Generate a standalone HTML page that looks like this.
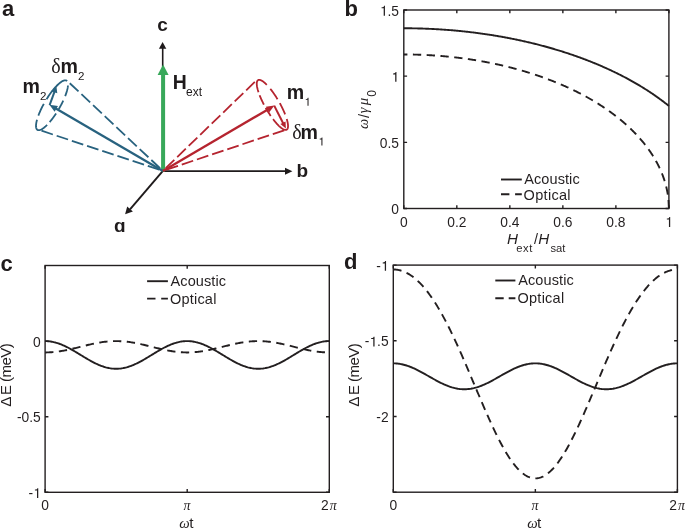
<!DOCTYPE html><html><head><meta charset="utf-8"><style>html,body{margin:0;padding:0;background:#fff;overflow:hidden}svg{display:block;will-change:transform}</style></head><body>
<svg width="685" height="529" viewBox="0 0 685 529">
<rect width="685" height="529" fill="#fff"/>
<text x="2.06" y="16.1" font-family="Liberation Sans" font-size="22" font-weight="bold" font-style="normal" fill="#1f1b1c">a</text>
<text x="344.55" y="16" font-family="Liberation Sans" font-size="22" font-weight="bold" font-style="normal" fill="#1f1b1c">b</text>
<text x="0.54" y="270.5" font-family="Liberation Sans" font-size="22" font-weight="bold" font-style="normal" fill="#1f1b1c">c</text>
<text x="344.1" y="269.4" font-family="Liberation Sans" font-size="22" font-weight="bold" font-style="normal" fill="#1f1b1c">d</text>
<path d="M403.8 28.26 L404.68 28.26 L405.57 28.26 L406.45 28.27 L407.33 28.27 L408.22 28.28 L409.1 28.29 L409.99 28.3 L410.87 28.31 L411.75 28.32 L412.64 28.33 L413.52 28.34 L414.4 28.36 L415.29 28.38 L416.17 28.39 L417.06 28.41 L417.94 28.44 L418.82 28.46 L419.71 28.48 L420.59 28.51 L421.47 28.53 L422.36 28.56 L423.24 28.59 L424.12 28.62 L425.01 28.65 L425.89 28.69 L426.78 28.72 L427.66 28.76 L428.54 28.79 L429.43 28.83 L430.31 28.87 L431.19 28.91 L432.08 28.96 L432.96 29 L433.84 29.05 L434.73 29.09 L435.61 29.14 L436.5 29.19 L437.38 29.24 L438.26 29.29 L439.15 29.35 L440.03 29.4 L440.91 29.46 L441.8 29.52 L442.68 29.58 L443.56 29.64 L444.45 29.7 L445.33 29.76 L446.22 29.83 L447.1 29.9 L447.98 29.96 L448.87 30.03 L449.75 30.1 L450.63 30.17 L451.52 30.25 L452.4 30.32 L453.29 30.4 L454.17 30.48 L455.05 30.55 L455.94 30.63 L456.82 30.72 L457.7 30.8 L458.59 30.88 L459.47 30.97 L460.35 31.06 L461.24 31.15 L462.12 31.24 L463.01 31.33 L463.89 31.42 L464.77 31.52 L465.66 31.61 L466.54 31.71 L467.42 31.81 L468.31 31.91 L469.19 32.01 L470.07 32.11 L470.96 32.22 L471.84 32.32 L472.73 32.43 L473.61 32.54 L474.49 32.65 L475.38 32.76 L476.26 32.87 L477.14 32.99 L478.03 33.1 L478.91 33.22 L479.8 33.34 L480.68 33.46 L481.56 33.58 L482.45 33.71 L483.33 33.83 L484.21 33.96 L485.1 34.09 L485.98 34.22 L486.86 34.35 L487.75 34.48 L488.63 34.61 L489.52 34.75 L490.4 34.89 L491.28 35.03 L492.17 35.17 L493.05 35.31 L493.93 35.45 L494.82 35.59 L495.7 35.74 L496.58 35.89 L497.47 36.04 L498.35 36.19 L499.24 36.34 L500.12 36.49 L501 36.65 L501.89 36.81 L502.77 36.97 L503.65 37.13 L504.54 37.29 L505.42 37.45 L506.31 37.62 L507.19 37.78 L508.07 37.95 L508.96 38.12 L509.84 38.29 L510.72 38.46 L511.61 38.64 L512.49 38.82 L513.37 38.99 L514.26 39.17 L515.14 39.35 L516.03 39.54 L516.91 39.72 L517.79 39.91 L518.68 40.09 L519.56 40.28 L520.44 40.47 L521.33 40.67 L522.21 40.86 L523.1 41.06 L523.98 41.25 L524.86 41.45 L525.75 41.65 L526.63 41.86 L527.51 42.06 L528.4 42.27 L529.28 42.48 L530.16 42.69 L531.05 42.9 L531.93 43.11 L532.82 43.32 L533.7 43.54 L534.58 43.76 L535.47 43.98 L536.35 44.2 L537.23 44.43 L538.12 44.65 L539 44.88 L539.88 45.11 L540.77 45.34 L541.65 45.57 L542.54 45.81 L543.42 46.04 L544.3 46.28 L545.19 46.52 L546.07 46.76 L546.95 47.01 L547.84 47.25 L548.72 47.5 L549.61 47.75 L550.49 48 L551.37 48.25 L552.26 48.51 L553.14 48.77 L554.02 49.03 L554.91 49.29 L555.79 49.55 L556.67 49.82 L557.56 50.08 L558.44 50.35 L559.33 50.62 L560.21 50.9 L561.09 51.17 L561.98 51.45 L562.86 51.73 L563.74 52.01 L564.63 52.29 L565.51 52.58 L566.39 52.87 L567.28 53.16 L568.16 53.45 L569.05 53.74 L569.93 54.04 L570.81 54.34 L571.7 54.64 L572.58 54.94 L573.46 55.24 L574.35 55.55 L575.23 55.86 L576.12 56.17 L577 56.48 L577.88 56.8 L578.77 57.12 L579.65 57.44 L580.53 57.76 L581.42 58.09 L582.3 58.41 L583.18 58.74 L584.07 59.07 L584.95 59.41 L585.84 59.75 L586.72 60.09 L587.6 60.43 L588.49 60.77 L589.37 61.12 L590.25 61.47 L591.14 61.82 L592.02 62.17 L592.9 62.53 L593.79 62.89 L594.67 63.25 L595.56 63.61 L596.44 63.98 L597.32 64.35 L598.21 64.72 L599.09 65.1 L599.97 65.47 L600.86 65.85 L601.74 66.24 L602.62 66.62 L603.51 67.01 L604.39 67.4 L605.28 67.8 L606.16 68.19 L607.04 68.59 L607.93 69 L608.81 69.4 L609.69 69.81 L610.58 70.22 L611.46 70.64 L612.35 71.05 L613.23 71.48 L614.11 71.9 L615 72.33 L615.88 72.76 L616.76 73.19 L617.65 73.63 L618.53 74.06 L619.41 74.51 L620.3 74.95 L621.18 75.4 L622.07 75.86 L622.95 76.31 L623.83 76.77 L624.72 77.23 L625.6 77.7 L626.48 78.17 L627.37 78.65 L628.25 79.12 L629.13 79.6 L630.02 80.09 L630.9 80.58 L631.79 81.07 L632.67 81.57 L633.55 82.07 L634.44 82.57 L635.32 83.08 L636.2 83.59 L637.09 84.11 L637.97 84.63 L638.86 85.15 L639.74 85.68 L640.62 86.21 L641.51 86.75 L642.39 87.29 L643.27 87.84 L644.16 88.39 L645.04 88.94 L645.92 89.5 L646.81 90.06 L647.69 90.63 L648.58 91.21 L649.46 91.79 L650.34 92.37 L651.23 92.96 L652.11 93.55 L652.99 94.15 L653.88 94.76 L654.76 95.37 L655.64 95.98 L656.53 96.6 L657.41 97.23 L658.3 97.86 L659.18 98.5 L660.06 99.15 L660.95 99.8 L661.83 100.45 L662.71 101.12 L663.6 101.78 L664.48 102.46 L665.37 103.14 L666.25 103.83 L667.13 104.53 L668.02 105.23 L668.9 105.94" stroke="#231f20" stroke-width="1.9" fill="none" stroke-linejoin="round"/>
<path d="M403.8 54.46 L404.24 54.46 L404.68 54.46 L405.13 54.47 L405.57 54.47 L406.01 54.47 L406.45 54.47 L406.89 54.47 L407.33 54.48 L407.78 54.48 L408.22 54.49 L408.66 54.49 L409.1 54.49 L409.54 54.5 L409.99 54.51 L410.43 54.51 L410.87 54.52 L411.31 54.53 L411.75 54.53 L412.19 54.54 L412.64 54.55 L413.08 54.56 L413.52 54.57 L413.96 54.58 L414.4 54.59 L414.85 54.6 L415.29 54.61 L415.73 54.62 L416.17 54.63 L416.61 54.64 L417.06 54.66 L417.5 54.67 L417.94 54.68 L418.38 54.7 L418.82 54.71 L419.26 54.73 L419.71 54.74 L420.15 54.76 L420.59 54.77 L421.03 54.79 L421.47 54.81 L421.92 54.82 L422.36 54.84 L422.8 54.86 L423.24 54.88 L423.68 54.9 L424.12 54.92 L424.57 54.94 L425.01 54.96 L425.45 54.98 L425.89 55 L426.33 55.02 L426.78 55.04 L427.22 55.07 L427.66 55.09 L428.1 55.11 L428.54 55.14 L428.98 55.16 L429.43 55.19 L429.87 55.21 L430.31 55.24 L430.75 55.26 L431.19 55.29 L431.64 55.32 L432.08 55.34 L432.52 55.37 L432.96 55.4 L433.4 55.43 L433.84 55.46 L434.29 55.49 L434.73 55.52 L435.17 55.55 L435.61 55.58 L436.05 55.61 L436.5 55.64 L436.94 55.67 L437.38 55.7 L437.82 55.74 L438.26 55.77 L438.7 55.81 L439.15 55.84 L439.59 55.87 L440.03 55.91 L440.47 55.94 L440.91 55.98 L441.36 56.02 L441.8 56.05 L442.24 56.09 L442.68 56.13 L443.12 56.17 L443.56 56.21 L444.01 56.25 L444.45 56.29 L444.89 56.33 L445.33 56.37 L445.77 56.41 L446.22 56.45 L446.66 56.49 L447.1 56.53 L447.54 56.58 L447.98 56.62 L448.43 56.66 L448.87 56.71 L449.31 56.75 L449.75 56.8 L450.19 56.84 L450.63 56.89 L451.08 56.93 L451.52 56.98 L451.96 57.03 L452.4 57.07 L452.84 57.12 L453.29 57.17 L453.73 57.22 L454.17 57.27 L454.61 57.32 L455.05 57.37 L455.49 57.42 L455.94 57.47 L456.38 57.52 L456.82 57.58 L457.26 57.63 L457.7 57.68 L458.15 57.74 L458.59 57.79 L459.03 57.84 L459.47 57.9 L459.91 57.95 L460.35 58.01 L460.8 58.07 L461.24 58.12 L461.68 58.18 L462.12 58.24 L462.56 58.3 L463.01 58.35 L463.45 58.41 L463.89 58.47 L464.33 58.53 L464.77 58.59 L465.21 58.65 L465.66 58.72 L466.1 58.78 L466.54 58.84 L466.98 58.9 L467.42 58.97 L467.87 59.03 L468.31 59.09 L468.75 59.16 L469.19 59.22 L469.63 59.29 L470.07 59.36 L470.52 59.42 L470.96 59.49 L471.4 59.56 L471.84 59.62 L472.28 59.69 L472.73 59.76 L473.17 59.83 L473.61 59.9 L474.05 59.97 L474.49 60.04 L474.94 60.11 L475.38 60.18 L475.82 60.26 L476.26 60.33 L476.7 60.4 L477.14 60.48 L477.59 60.55 L478.03 60.63 L478.47 60.7 L478.91 60.78 L479.35 60.85 L479.8 60.93 L480.24 61.01 L480.68 61.08 L481.12 61.16 L481.56 61.24 L482 61.32 L482.45 61.4 L482.89 61.48 L483.33 61.56 L483.77 61.64 L484.21 61.72 L484.66 61.8 L485.1 61.89 L485.54 61.97 L485.98 62.05 L486.42 62.14 L486.86 62.22 L487.31 62.31 L487.75 62.39 L488.19 62.48 L488.63 62.56 L489.07 62.65 L489.52 62.74 L489.96 62.83 L490.4 62.91 L490.84 63 L491.28 63.09 L491.72 63.18 L492.17 63.27 L492.61 63.36 L493.05 63.46 L493.49 63.55 L493.93 63.64 L494.38 63.73 L494.82 63.83 L495.26 63.92 L495.7 64.02 L496.14 64.11 L496.58 64.21 L497.03 64.3 L497.47 64.4 L497.91 64.5 L498.35 64.59 L498.79 64.69 L499.24 64.79 L499.68 64.89 L500.12 64.99 L500.56 65.09 L501 65.19 L501.45 65.29 L501.89 65.4 L502.33 65.5 L502.77 65.6 L503.21 65.7 L503.65 65.81 L504.1 65.91 L504.54 66.02 L504.98 66.12 L505.42 66.23 L505.86 66.34 L506.31 66.44 L506.75 66.55 L507.19 66.66 L507.63 66.77 L508.07 66.88 L508.51 66.99 L508.96 67.1 L509.4 67.21 L509.84 67.32 L510.28 67.44 L510.72 67.55 L511.17 67.66 L511.61 67.78 L512.05 67.89 L512.49 68.01 L512.93 68.12 L513.37 68.24 L513.82 68.35 L514.26 68.47 L514.7 68.59 L515.14 68.71 L515.58 68.83 L516.03 68.95 L516.47 69.07 L516.91 69.19 L517.35 69.31 L517.79 69.43 L518.23 69.55 L518.68 69.68 L519.12 69.8 L519.56 69.93 L520 70.05 L520.44 70.18 L520.89 70.3 L521.33 70.43 L521.77 70.56 L522.21 70.68 L522.65 70.81 L523.1 70.94 L523.54 71.07 L523.98 71.2 L524.42 71.33 L524.86 71.46 L525.3 71.6 L525.75 71.73 L526.19 71.86 L526.63 72 L527.07 72.13 L527.51 72.27 L527.96 72.4 L528.4 72.54 L528.84 72.67 L529.28 72.81 L529.72 72.95 L530.16 73.09 L530.61 73.23 L531.05 73.37 L531.49 73.51 L531.93 73.65 L532.37 73.79 L532.82 73.94 L533.26 74.08 L533.7 74.22 L534.14 74.37 L534.58 74.51 L535.02 74.66 L535.47 74.81 L535.91 74.95 L536.35 75.1 L536.79 75.25 L537.23 75.4 L537.68 75.55 L538.12 75.7 L538.56 75.85 L539 76 L539.44 76.15 L539.88 76.31 L540.33 76.46 L540.77 76.62 L541.21 76.77 L541.65 76.93 L542.09 77.08 L542.54 77.24 L542.98 77.4 L543.42 77.56 L543.86 77.72 L544.3 77.88 L544.74 78.04 L545.19 78.2 L545.63 78.36 L546.07 78.53 L546.51 78.69 L546.95 78.85 L547.4 79.02 L547.84 79.18 L548.28 79.35 L548.72 79.52 L549.16 79.69 L549.61 79.85 L550.05 80.02 L550.49 80.19 L550.93 80.37 L551.37 80.54 L551.81 80.71 L552.26 80.88 L552.7 81.06 L553.14 81.23 L553.58 81.41 L554.02 81.58 L554.47 81.76 L554.91 81.94 L555.35 82.12 L555.79 82.29 L556.23 82.47 L556.67 82.66 L557.12 82.84 L557.56 83.02 L558 83.2 L558.44 83.39 L558.88 83.57 L559.33 83.76 L559.77 83.94 L560.21 84.13 L560.65 84.32 L561.09 84.51 L561.53 84.7 L561.98 84.89 L562.42 85.08 L562.86 85.27 L563.3 85.46 L563.74 85.66 L564.19 85.85 L564.63 86.05 L565.07 86.24 L565.51 86.44 L565.95 86.64 L566.39 86.84 L566.84 87.04 L567.28 87.24 L567.72 87.44 L568.16 87.64 L568.6 87.85 L569.05 88.05 L569.49 88.26 L569.93 88.46 L570.37 88.67 L570.81 88.88 L571.25 89.09 L571.7 89.29 L572.14 89.51 L572.58 89.72 L573.02 89.93 L573.46 90.14 L573.91 90.36 L574.35 90.57 L574.79 90.79 L575.23 91.01 L575.67 91.22 L576.12 91.44 L576.56 91.66 L577 91.88 L577.44 92.11 L577.88 92.33 L578.32 92.55 L578.77 92.78 L579.21 93 L579.65 93.23 L580.09 93.46 L580.53 93.69 L580.98 93.92 L581.42 94.15 L581.86 94.38 L582.3 94.62 L582.74 94.85 L583.18 95.08 L583.63 95.32 L584.07 95.56 L584.51 95.8 L584.95 96.04 L585.39 96.28 L585.84 96.52 L586.28 96.76 L586.72 97.01 L587.16 97.25 L587.6 97.5 L588.04 97.75 L588.49 98 L588.93 98.25 L589.37 98.5 L589.81 98.75 L590.25 99 L590.7 99.26 L591.14 99.51 L591.58 99.77 L592.02 100.03 L592.46 100.29 L592.9 100.55 L593.35 100.81 L593.79 101.07 L594.23 101.34 L594.67 101.6 L595.11 101.87 L595.56 102.14 L596 102.41 L596.44 102.68 L596.88 102.95 L597.32 103.22 L597.76 103.5 L598.21 103.78 L598.65 104.05 L599.09 104.33 L599.53 104.61 L599.97 104.89 L600.42 105.18 L600.86 105.46 L601.3 105.75 L601.74 106.04 L602.18 106.32 L602.62 106.61 L603.07 106.91 L603.51 107.2 L603.95 107.49 L604.39 107.79 L604.83 108.09 L605.28 108.39 L605.72 108.69 L606.16 108.99 L606.6 109.3 L607.04 109.6 L607.49 109.91 L607.93 110.22 L608.37 110.53 L608.81 110.84 L609.25 111.16 L609.69 111.47 L610.14 111.79 L610.58 112.11 L611.02 112.43 L611.46 112.75 L611.9 113.08 L612.35 113.4 L612.79 113.73 L613.23 114.06 L613.67 114.39 L614.11 114.72 L614.55 115.06 L615 115.4 L615.44 115.74 L615.88 116.08 L616.32 116.42 L616.76 116.77 L617.21 117.11 L617.65 117.46 L618.09 117.82 L618.53 118.17 L618.97 118.52 L619.41 118.88 L619.86 119.24 L620.3 119.6 L620.74 119.97 L621.18 120.34 L621.62 120.7 L622.07 121.08 L622.51 121.45 L622.95 121.83 L623.39 122.2 L623.83 122.58 L624.27 122.97 L624.72 123.35 L625.16 123.74 L625.6 124.13 L626.04 124.53 L626.48 124.92 L626.93 125.32 L627.37 125.72 L627.81 126.13 L628.25 126.53 L628.69 126.94 L629.13 127.36 L629.58 127.77 L630.02 128.19 L630.46 128.61 L630.9 129.04 L631.34 129.47 L631.79 129.9 L632.23 130.33 L632.67 130.77 L633.11 131.21 L633.55 131.65 L634 132.1 L634.44 132.55 L634.88 133.01 L635.32 133.47 L635.76 133.93 L636.2 134.39 L636.65 134.86 L637.09 135.34 L637.53 135.81 L637.97 136.3 L638.41 136.78 L638.86 137.27 L639.3 137.77 L639.74 138.27 L640.18 138.77 L640.62 139.28 L641.06 139.79 L641.51 140.31 L641.95 140.83 L642.39 141.36 L642.83 141.89 L643.27 142.43 L643.72 142.97 L644.16 143.52 L644.6 144.07 L645.04 144.64 L645.48 145.2 L645.92 145.77 L646.37 146.35 L646.81 146.94 L647.25 147.53 L647.69 148.13 L648.13 148.74 L648.58 149.35 L649.02 149.97 L649.46 150.6 L649.9 151.24 L650.34 151.88 L650.78 152.54 L651.23 153.2 L651.67 153.87 L652.11 154.55 L652.55 155.24 L652.99 155.95 L653.44 156.66 L653.88 157.38 L654.32 158.12 L654.76 158.87 L655.2 159.63 L655.64 160.4 L656.09 161.19 L656.53 161.99 L656.97 162.81 L657.41 163.65 L657.85 164.5 L658.3 165.37 L658.74 166.26 L659.18 167.17 L659.62 168.1 L660.06 169.06 L660.51 170.04 L660.95 171.05 L661.39 172.09 L661.83 173.16 L662.27 174.27 L662.71 175.42 L663.16 176.61 L663.6 177.85 L664.04 179.14 L664.48 180.49 L664.92 181.92 L665.37 183.43 L665.81 185.04 L666.25 186.77 L666.69 188.66 L667.13 190.74 L667.57 193.12 L668.02 195.93 L668.46 199.61 L668.9 208.5" stroke="#231f20" stroke-width="1.9" fill="none" stroke-linejoin="round" stroke-dasharray="8.3 5.5" stroke-dashoffset="4.7"/>
<path d="M403.8 208.5 V205.2 M403.8 10 V13.3 M456.82 208.5 V205.2 M456.82 10 V13.3 M509.84 208.5 V205.2 M509.84 10 V13.3 M562.86 208.5 V205.2 M562.86 10 V13.3 M615.88 208.5 V205.2 M615.88 10 V13.3 M668.9 208.5 V205.2 M668.9 10 V13.3 M403.8 208.5 H407.1 M668.9 208.5 H665.6 M403.8 142.33 H407.1 M668.9 142.33 H665.6 M403.8 76.17 H407.1 M668.9 76.17 H665.6 M403.8 10 H407.1 M668.9 10 H665.6" stroke="#231f20" stroke-width="1.4" fill="none"/>
<rect x="403.8" y="10" width="265.1" height="198.5" stroke="#231f20" stroke-width="1.4" fill="none"/>
<text x="399" y="214.14" font-family="Liberation Sans" font-size="13.8" font-weight="normal" font-style="normal" text-anchor="end" fill="#231f20">0</text>
<text x="399" y="147.97" font-family="Liberation Sans" font-size="13.8" font-weight="normal" font-style="normal" text-anchor="end" fill="#231f20">0.5</text>
<path d="M395.2 81.81 L396.46 81.81 L396.46 72.02 L395.55 72.02 L395.35 72.64 L394.94 73.11 L394.29 73.36 L393.12 73.44 L393.12 74.47 L395.2 74.47 Z" fill="#231f20"/>
<path d="M383.69 15.64 L384.95 15.64 L384.95 5.86 L384.04 5.86 L383.85 6.48 L383.43 6.95 L382.78 7.19 L381.61 7.28 L381.61 8.3 L383.69 8.3 Z" fill="#231f20"/>
<text x="387.49" y="15.64" font-family="Liberation Sans" font-size="13.8" fill="#231f20">.5</text>
<text x="403.8" y="226.9" font-family="Liberation Sans" font-size="13.8" font-weight="normal" font-style="normal" text-anchor="middle" fill="#231f20">0</text>
<text x="456.82" y="226.9" font-family="Liberation Sans" font-size="13.8" font-weight="normal" font-style="normal" text-anchor="middle" fill="#231f20">0.2</text>
<text x="509.84" y="226.9" font-family="Liberation Sans" font-size="13.8" font-weight="normal" font-style="normal" text-anchor="middle" fill="#231f20">0.4</text>
<text x="562.86" y="226.9" font-family="Liberation Sans" font-size="13.8" font-weight="normal" font-style="normal" text-anchor="middle" fill="#231f20">0.6</text>
<text x="615.88" y="226.9" font-family="Liberation Sans" font-size="13.8" font-weight="normal" font-style="normal" text-anchor="middle" fill="#231f20">0.8</text>
<path d="M668.94 226.9 L670.2 226.9 L670.2 217.12 L669.29 217.12 L669.09 217.74 L668.68 218.21 L668.03 218.45 L666.86 218.54 L666.86 219.56 L668.94 219.56 Z" fill="#231f20"/>
<path d="M501 179.5 H521.8" stroke="#231f20" stroke-width="1.9"/>
<path d="M501 194.3 H509.4 M515.1 194.3 H521.8" stroke="#231f20" stroke-width="1.9"/>
<text x="524.27" y="183.9" font-family="Liberation Sans" font-size="14.5" font-weight="normal" font-style="normal" fill="#231f20" textLength="55.41" lengthAdjust="spacing">Acoustic</text>
<text x="523.61" y="199.5" font-family="Liberation Sans" font-size="14.5" font-weight="normal" font-style="normal" fill="#231f20" textLength="46.96" lengthAdjust="spacing">Optical</text>
<text x="506.93" y="243.9" font-family="Liberation Sans" font-size="15.2" font-weight="normal" font-style="italic" fill="#231f20">H</text>
<text x="516.22" y="251.6" font-family="Liberation Sans" font-size="11.2" font-weight="normal" font-style="normal" fill="#231f20" textLength="16.26" lengthAdjust="spacing">ext</text>
<text x="534.1" y="243.8" font-family="Liberation Sans" font-size="14.5" font-weight="normal" font-style="normal" fill="#231f20">/</text>
<text x="538.23" y="243.9" font-family="Liberation Sans" font-size="15.2" font-weight="normal" font-style="italic" fill="#231f20">H</text>
<text x="550.39" y="251.6" font-family="Liberation Sans" font-size="11.2" font-weight="normal" font-style="normal" fill="#231f20" textLength="15.09" lengthAdjust="spacing">sat</text>
<text x="-128.98" y="368.2" font-family="Liberation Serif" font-size="14.5" font-weight="normal" font-style="italic" fill="#231f20" transform="rotate(-90)">ω</text>
<text x="-118.1" y="368.6" font-family="Liberation Sans" font-size="14.8" font-weight="normal" font-style="normal" fill="#231f20" transform="rotate(-90)">/</text>
<text x="-113.16" y="368.2" font-family="Liberation Serif" font-size="14.5" font-weight="normal" font-style="italic" fill="#231f20" transform="rotate(-90)">γ</text>
<text x="-105.29" y="368.2" font-family="Liberation Serif" font-size="14.8" font-weight="normal" font-style="italic" fill="#231f20" transform="rotate(-90)">μ</text>
<text x="-96.87" y="376" font-family="Liberation Sans" font-size="12" font-weight="normal" font-style="normal" fill="#231f20" transform="rotate(-90)">0</text>
<path d="M45.1 341.1 L46.05 341.11 L46.99 341.15 L47.94 341.21 L48.89 341.29 L49.84 341.4 L50.78 341.53 L51.73 341.69 L52.68 341.87 L53.63 342.07 L54.57 342.3 L55.52 342.54 L56.47 342.81 L57.42 343.1 L58.36 343.41 L59.31 343.74 L60.26 344.09 L61.2 344.46 L62.15 344.85 L63.1 345.26 L64.05 345.68 L64.99 346.12 L65.94 346.57 L66.89 347.04 L67.84 347.52 L68.78 348.02 L69.73 348.53 L70.68 349.04 L71.63 349.57 L72.57 350.11 L73.52 350.66 L74.47 351.21 L75.41 351.78 L76.36 352.34 L77.31 352.91 L78.26 353.49 L79.2 354.07 L80.15 354.65 L81.1 355.22 L82.05 355.8 L82.99 356.38 L83.94 356.96 L84.89 357.53 L85.84 358.09 L86.78 358.66 L87.73 359.21 L88.68 359.76 L89.62 360.3 L90.57 360.83 L91.52 361.34 L92.47 361.85 L93.41 362.35 L94.36 362.83 L95.31 363.3 L96.26 363.75 L97.2 364.19 L98.15 364.61 L99.1 365.02 L100.05 365.41 L100.99 365.78 L101.94 366.13 L102.89 366.46 L103.83 366.77 L104.78 367.06 L105.73 367.33 L106.68 367.57 L107.62 367.8 L108.57 368 L109.52 368.18 L110.47 368.33 L111.41 368.47 L112.36 368.58 L113.31 368.66 L114.26 368.72 L115.2 368.76 L116.15 368.77 L117.1 368.76 L118.04 368.72 L118.99 368.66 L119.94 368.58 L120.89 368.47 L121.83 368.33 L122.78 368.18 L123.73 368 L124.68 367.8 L125.62 367.57 L126.57 367.33 L127.52 367.06 L128.47 366.77 L129.41 366.46 L130.36 366.13 L131.31 365.78 L132.25 365.41 L133.2 365.02 L134.15 364.61 L135.1 364.19 L136.04 363.75 L136.99 363.3 L137.94 362.83 L138.89 362.35 L139.83 361.85 L140.78 361.34 L141.73 360.83 L142.68 360.3 L143.62 359.76 L144.57 359.21 L145.52 358.66 L146.46 358.09 L147.41 357.53 L148.36 356.96 L149.31 356.38 L150.25 355.8 L151.2 355.22 L152.15 354.65 L153.1 354.07 L154.04 353.49 L154.99 352.91 L155.94 352.34 L156.89 351.78 L157.83 351.21 L158.78 350.66 L159.73 350.11 L160.67 349.57 L161.62 349.04 L162.57 348.53 L163.52 348.02 L164.46 347.52 L165.41 347.04 L166.36 346.57 L167.31 346.12 L168.25 345.68 L169.2 345.26 L170.15 344.85 L171.1 344.46 L172.04 344.09 L172.99 343.74 L173.94 343.41 L174.88 343.1 L175.83 342.81 L176.78 342.54 L177.73 342.3 L178.67 342.07 L179.62 341.87 L180.57 341.69 L181.52 341.53 L182.46 341.4 L183.41 341.29 L184.36 341.21 L185.31 341.15 L186.25 341.11 L187.2 341.1 L188.15 341.11 L189.09 341.15 L190.04 341.21 L190.99 341.29 L191.94 341.4 L192.88 341.53 L193.83 341.69 L194.78 341.87 L195.73 342.07 L196.67 342.3 L197.62 342.54 L198.57 342.81 L199.52 343.1 L200.46 343.41 L201.41 343.74 L202.36 344.09 L203.3 344.46 L204.25 344.85 L205.2 345.26 L206.15 345.68 L207.09 346.12 L208.04 346.57 L208.99 347.04 L209.94 347.52 L210.88 348.02 L211.83 348.53 L212.78 349.04 L213.73 349.57 L214.67 350.11 L215.62 350.66 L216.57 351.21 L217.51 351.78 L218.46 352.34 L219.41 352.91 L220.36 353.49 L221.3 354.07 L222.25 354.65 L223.2 355.22 L224.15 355.8 L225.09 356.38 L226.04 356.96 L226.99 357.53 L227.94 358.09 L228.88 358.66 L229.83 359.21 L230.78 359.76 L231.72 360.3 L232.67 360.83 L233.62 361.34 L234.57 361.85 L235.51 362.35 L236.46 362.83 L237.41 363.3 L238.36 363.75 L239.3 364.19 L240.25 364.61 L241.2 365.02 L242.15 365.41 L243.09 365.78 L244.04 366.13 L244.99 366.46 L245.93 366.77 L246.88 367.06 L247.83 367.33 L248.78 367.57 L249.72 367.8 L250.67 368 L251.62 368.18 L252.57 368.33 L253.51 368.47 L254.46 368.58 L255.41 368.66 L256.36 368.72 L257.3 368.76 L258.25 368.77 L259.2 368.76 L260.14 368.72 L261.09 368.66 L262.04 368.58 L262.99 368.47 L263.93 368.33 L264.88 368.18 L265.83 368 L266.78 367.8 L267.72 367.57 L268.67 367.33 L269.62 367.06 L270.57 366.77 L271.51 366.46 L272.46 366.13 L273.41 365.78 L274.35 365.41 L275.3 365.02 L276.25 364.61 L277.2 364.19 L278.14 363.75 L279.09 363.3 L280.04 362.83 L280.99 362.35 L281.93 361.85 L282.88 361.34 L283.83 360.83 L284.78 360.3 L285.72 359.76 L286.67 359.21 L287.62 358.66 L288.56 358.09 L289.51 357.53 L290.46 356.96 L291.41 356.38 L292.35 355.8 L293.3 355.22 L294.25 354.65 L295.2 354.07 L296.14 353.49 L297.09 352.91 L298.04 352.34 L298.99 351.78 L299.93 351.21 L300.88 350.66 L301.83 350.11 L302.77 349.57 L303.72 349.04 L304.67 348.53 L305.62 348.02 L306.56 347.52 L307.51 347.04 L308.46 346.57 L309.41 346.12 L310.35 345.68 L311.3 345.26 L312.25 344.85 L313.2 344.46 L314.14 344.09 L315.09 343.74 L316.04 343.41 L316.98 343.1 L317.93 342.81 L318.88 342.54 L319.83 342.3 L320.77 342.07 L321.72 341.87 L322.67 341.69 L323.62 341.53 L324.56 341.4 L325.51 341.29 L326.46 341.21 L327.41 341.15 L328.35 341.11 L329.3 341.1" stroke="#231f20" stroke-width="1.9" fill="none" stroke-linejoin="round"/>
<path d="M45.1 352.44 L46.05 352.44 L46.99 352.42 L47.94 352.4 L48.89 352.36 L49.84 352.32 L50.78 352.26 L51.73 352.2 L52.68 352.12 L53.63 352.04 L54.57 351.95 L55.52 351.85 L56.47 351.74 L57.42 351.62 L58.36 351.49 L59.31 351.36 L60.26 351.21 L61.2 351.06 L62.15 350.9 L63.1 350.74 L64.05 350.56 L64.99 350.38 L65.94 350.2 L66.89 350.01 L67.84 349.81 L68.78 349.61 L69.73 349.4 L70.68 349.18 L71.63 348.97 L72.57 348.75 L73.52 348.52 L74.47 348.29 L75.41 348.06 L76.36 347.83 L77.31 347.6 L78.26 347.36 L79.2 347.13 L80.15 346.89 L81.1 346.65 L82.05 346.41 L82.99 346.18 L83.94 345.94 L84.89 345.71 L85.84 345.48 L86.78 345.25 L87.73 345.02 L88.68 344.79 L89.62 344.57 L90.57 344.36 L91.52 344.14 L92.47 343.94 L93.41 343.73 L94.36 343.53 L95.31 343.34 L96.26 343.16 L97.2 342.98 L98.15 342.8 L99.1 342.64 L100.05 342.48 L100.99 342.33 L101.94 342.18 L102.89 342.05 L103.83 341.92 L104.78 341.8 L105.73 341.69 L106.68 341.59 L107.62 341.5 L108.57 341.42 L109.52 341.34 L110.47 341.28 L111.41 341.22 L112.36 341.18 L113.31 341.14 L114.26 341.12 L115.2 341.1 L116.15 341.1 L117.1 341.1 L118.04 341.12 L118.99 341.14 L119.94 341.18 L120.89 341.22 L121.83 341.28 L122.78 341.34 L123.73 341.42 L124.68 341.5 L125.62 341.59 L126.57 341.69 L127.52 341.8 L128.47 341.92 L129.41 342.05 L130.36 342.18 L131.31 342.33 L132.25 342.48 L133.2 342.64 L134.15 342.8 L135.1 342.98 L136.04 343.16 L136.99 343.34 L137.94 343.53 L138.89 343.73 L139.83 343.94 L140.78 344.14 L141.73 344.36 L142.68 344.57 L143.62 344.79 L144.57 345.02 L145.52 345.25 L146.46 345.48 L147.41 345.71 L148.36 345.94 L149.31 346.18 L150.25 346.41 L151.2 346.65 L152.15 346.89 L153.1 347.13 L154.04 347.36 L154.99 347.6 L155.94 347.83 L156.89 348.06 L157.83 348.29 L158.78 348.52 L159.73 348.75 L160.67 348.97 L161.62 349.18 L162.57 349.4 L163.52 349.61 L164.46 349.81 L165.41 350.01 L166.36 350.2 L167.31 350.38 L168.25 350.56 L169.2 350.74 L170.15 350.9 L171.1 351.06 L172.04 351.21 L172.99 351.36 L173.94 351.49 L174.88 351.62 L175.83 351.74 L176.78 351.85 L177.73 351.95 L178.67 352.04 L179.62 352.12 L180.57 352.2 L181.52 352.26 L182.46 352.32 L183.41 352.36 L184.36 352.4 L185.31 352.42 L186.25 352.44 L187.2 352.44 L188.15 352.44 L189.09 352.42 L190.04 352.4 L190.99 352.36 L191.94 352.32 L192.88 352.26 L193.83 352.2 L194.78 352.12 L195.73 352.04 L196.67 351.95 L197.62 351.85 L198.57 351.74 L199.52 351.62 L200.46 351.49 L201.41 351.36 L202.36 351.21 L203.3 351.06 L204.25 350.9 L205.2 350.74 L206.15 350.56 L207.09 350.38 L208.04 350.2 L208.99 350.01 L209.94 349.81 L210.88 349.61 L211.83 349.4 L212.78 349.18 L213.73 348.97 L214.67 348.75 L215.62 348.52 L216.57 348.29 L217.51 348.06 L218.46 347.83 L219.41 347.6 L220.36 347.36 L221.3 347.13 L222.25 346.89 L223.2 346.65 L224.15 346.41 L225.09 346.18 L226.04 345.94 L226.99 345.71 L227.94 345.48 L228.88 345.25 L229.83 345.02 L230.78 344.79 L231.72 344.57 L232.67 344.36 L233.62 344.14 L234.57 343.94 L235.51 343.73 L236.46 343.53 L237.41 343.34 L238.36 343.16 L239.3 342.98 L240.25 342.8 L241.2 342.64 L242.15 342.48 L243.09 342.33 L244.04 342.18 L244.99 342.05 L245.93 341.92 L246.88 341.8 L247.83 341.69 L248.78 341.59 L249.72 341.5 L250.67 341.42 L251.62 341.34 L252.57 341.28 L253.51 341.22 L254.46 341.18 L255.41 341.14 L256.36 341.12 L257.3 341.1 L258.25 341.1 L259.2 341.1 L260.14 341.12 L261.09 341.14 L262.04 341.18 L262.99 341.22 L263.93 341.28 L264.88 341.34 L265.83 341.42 L266.78 341.5 L267.72 341.59 L268.67 341.69 L269.62 341.8 L270.57 341.92 L271.51 342.05 L272.46 342.18 L273.41 342.33 L274.35 342.48 L275.3 342.64 L276.25 342.8 L277.2 342.98 L278.14 343.16 L279.09 343.34 L280.04 343.53 L280.99 343.73 L281.93 343.94 L282.88 344.14 L283.83 344.36 L284.78 344.57 L285.72 344.79 L286.67 345.02 L287.62 345.25 L288.56 345.48 L289.51 345.71 L290.46 345.94 L291.41 346.18 L292.35 346.41 L293.3 346.65 L294.25 346.89 L295.2 347.13 L296.14 347.36 L297.09 347.6 L298.04 347.83 L298.99 348.06 L299.93 348.29 L300.88 348.52 L301.83 348.75 L302.77 348.97 L303.72 349.18 L304.67 349.4 L305.62 349.61 L306.56 349.81 L307.51 350.01 L308.46 350.2 L309.41 350.38 L310.35 350.56 L311.3 350.74 L312.25 350.9 L313.2 351.06 L314.14 351.21 L315.09 351.36 L316.04 351.49 L316.98 351.62 L317.93 351.74 L318.88 351.85 L319.83 351.95 L320.77 352.04 L321.72 352.12 L322.67 352.2 L323.62 352.26 L324.56 352.32 L325.51 352.36 L326.46 352.4 L327.41 352.42 L328.35 352.44 L329.3 352.44" stroke="#231f20" stroke-width="1.9" fill="none" stroke-linejoin="round" stroke-dasharray="8.3 5.5" stroke-dashoffset="0"/>
<path d="M45.1 492.3 V489 M45.1 265.5 V268.8 M187.2 492.3 V489 M187.2 265.5 V268.8 M329.3 492.3 V489 M329.3 265.5 V268.8 M45.1 492.3 H48.4 M329.3 492.3 H326 M45.1 416.7 H48.4 M329.3 416.7 H326 M45.1 341.1 H48.4 M329.3 341.1 H326" stroke="#231f20" stroke-width="1.4" fill="none"/>
<rect x="45.1" y="265.5" width="284.2" height="226.8" stroke="#231f20" stroke-width="1.4" fill="none"/>
<text x="40.8" y="346.74" font-family="Liberation Sans" font-size="13.8" font-weight="normal" font-style="normal" text-anchor="end" fill="#231f20">0</text>
<text x="40.8" y="422.34" font-family="Liberation Sans" font-size="13.8" font-weight="normal" font-style="normal" text-anchor="end" fill="#231f20">-0.5</text>
<text x="28.53" y="497.94" font-family="Liberation Sans" font-size="13.8" fill="#231f20">-</text>
<path d="M37 497.94 L38.26 497.94 L38.26 488.16 L37.35 488.16 L37.15 488.78 L36.74 489.25 L36.09 489.49 L34.92 489.58 L34.92 490.6 L37 490.6 Z" fill="#231f20"/>
<path d="M147.1 281.2 H167.9" stroke="#231f20" stroke-width="1.9"/>
<path d="M147.1 298.6 H155.5 M161.2 298.6 H167.9" stroke="#231f20" stroke-width="1.9"/>
<text x="170.57" y="285.9" font-family="Liberation Sans" font-size="14.5" font-weight="normal" font-style="normal" fill="#231f20" textLength="55.41" lengthAdjust="spacing">Acoustic</text>
<text x="169.91" y="303.7" font-family="Liberation Sans" font-size="14.5" font-weight="normal" font-style="normal" fill="#231f20" textLength="46.46" lengthAdjust="spacing">Optical</text>
<path d="M393.3 363.36 L394.25 363.37 L395.19 363.4 L396.14 363.46 L397.09 363.54 L398.04 363.64 L398.98 363.77 L399.93 363.91 L400.88 364.08 L401.82 364.27 L402.77 364.48 L403.72 364.71 L404.66 364.96 L405.61 365.23 L406.56 365.52 L407.5 365.83 L408.45 366.16 L409.4 366.5 L410.35 366.87 L411.29 367.25 L412.24 367.64 L413.19 368.05 L414.13 368.48 L415.08 368.92 L416.03 369.37 L416.98 369.83 L417.92 370.31 L418.87 370.79 L419.82 371.29 L420.76 371.79 L421.71 372.3 L422.66 372.82 L423.6 373.35 L424.55 373.88 L425.5 374.41 L426.44 374.95 L427.39 375.49 L428.34 376.03 L429.29 376.57 L430.23 377.12 L431.18 377.66 L432.13 378.19 L433.07 378.73 L434.02 379.26 L434.97 379.78 L435.92 380.3 L436.86 380.82 L437.81 381.32 L438.76 381.81 L439.7 382.3 L440.65 382.78 L441.6 383.24 L442.54 383.69 L443.49 384.13 L444.44 384.55 L445.38 384.96 L446.33 385.36 L447.28 385.74 L448.23 386.1 L449.17 386.45 L450.12 386.78 L451.07 387.09 L452.01 387.38 L452.96 387.65 L453.91 387.9 L454.86 388.13 L455.8 388.34 L456.75 388.53 L457.7 388.7 L458.64 388.84 L459.59 388.97 L460.54 389.07 L461.48 389.15 L462.43 389.2 L463.38 389.24 L464.32 389.25 L465.27 389.24 L466.22 389.2 L467.17 389.15 L468.11 389.07 L469.06 388.97 L470.01 388.84 L470.95 388.7 L471.9 388.53 L472.85 388.34 L473.8 388.13 L474.74 387.9 L475.69 387.65 L476.64 387.38 L477.58 387.09 L478.53 386.78 L479.48 386.45 L480.42 386.1 L481.37 385.74 L482.32 385.36 L483.26 384.96 L484.21 384.55 L485.16 384.13 L486.11 383.69 L487.05 383.24 L488 382.78 L488.95 382.3 L489.89 381.81 L490.84 381.32 L491.79 380.82 L492.74 380.3 L493.68 379.78 L494.63 379.26 L495.58 378.73 L496.52 378.19 L497.47 377.66 L498.42 377.12 L499.36 376.57 L500.31 376.03 L501.26 375.49 L502.21 374.95 L503.15 374.41 L504.1 373.88 L505.05 373.35 L505.99 372.82 L506.94 372.3 L507.89 371.79 L508.83 371.29 L509.78 370.79 L510.73 370.31 L511.67 369.83 L512.62 369.37 L513.57 368.92 L514.52 368.48 L515.46 368.05 L516.41 367.64 L517.36 367.25 L518.3 366.87 L519.25 366.5 L520.2 366.16 L521.14 365.83 L522.09 365.52 L523.04 365.23 L523.99 364.96 L524.93 364.71 L525.88 364.48 L526.83 364.27 L527.77 364.08 L528.72 363.91 L529.67 363.77 L530.62 363.64 L531.56 363.54 L532.51 363.46 L533.46 363.4 L534.4 363.37 L535.35 363.36 L536.3 363.37 L537.24 363.4 L538.19 363.46 L539.14 363.54 L540.09 363.64 L541.03 363.77 L541.98 363.91 L542.93 364.08 L543.87 364.27 L544.82 364.48 L545.77 364.71 L546.71 364.96 L547.66 365.23 L548.61 365.52 L549.55 365.83 L550.5 366.16 L551.45 366.5 L552.4 366.87 L553.34 367.25 L554.29 367.64 L555.24 368.05 L556.18 368.48 L557.13 368.92 L558.08 369.37 L559.02 369.83 L559.97 370.31 L560.92 370.79 L561.87 371.29 L562.81 371.79 L563.76 372.3 L564.71 372.82 L565.65 373.35 L566.6 373.88 L567.55 374.41 L568.5 374.95 L569.44 375.49 L570.39 376.03 L571.34 376.57 L572.28 377.12 L573.23 377.66 L574.18 378.19 L575.12 378.73 L576.07 379.26 L577.02 379.78 L577.97 380.3 L578.91 380.82 L579.86 381.32 L580.81 381.81 L581.75 382.3 L582.7 382.78 L583.65 383.24 L584.59 383.69 L585.54 384.13 L586.49 384.55 L587.43 384.96 L588.38 385.36 L589.33 385.74 L590.28 386.1 L591.22 386.45 L592.17 386.78 L593.12 387.09 L594.06 387.38 L595.01 387.65 L595.96 387.9 L596.9 388.13 L597.85 388.34 L598.8 388.53 L599.75 388.7 L600.69 388.84 L601.64 388.97 L602.59 389.07 L603.53 389.15 L604.48 389.2 L605.43 389.24 L606.38 389.25 L607.32 389.24 L608.27 389.2 L609.22 389.15 L610.16 389.07 L611.11 388.97 L612.06 388.84 L613 388.7 L613.95 388.53 L614.9 388.34 L615.85 388.13 L616.79 387.9 L617.74 387.65 L618.69 387.38 L619.63 387.09 L620.58 386.78 L621.53 386.45 L622.47 386.1 L623.42 385.74 L624.37 385.36 L625.31 384.96 L626.26 384.55 L627.21 384.13 L628.16 383.69 L629.1 383.24 L630.05 382.78 L631 382.3 L631.94 381.81 L632.89 381.32 L633.84 380.82 L634.78 380.3 L635.73 379.78 L636.68 379.26 L637.63 378.73 L638.57 378.19 L639.52 377.66 L640.47 377.12 L641.41 376.57 L642.36 376.03 L643.31 375.49 L644.25 374.95 L645.2 374.41 L646.15 373.88 L647.1 373.35 L648.04 372.82 L648.99 372.3 L649.94 371.79 L650.88 371.29 L651.83 370.79 L652.78 370.31 L653.73 369.83 L654.67 369.37 L655.62 368.92 L656.57 368.48 L657.51 368.05 L658.46 367.64 L659.41 367.25 L660.35 366.87 L661.3 366.5 L662.25 366.16 L663.19 365.83 L664.14 365.52 L665.09 365.23 L666.04 364.96 L666.98 364.71 L667.93 364.48 L668.88 364.27 L669.82 364.08 L670.77 363.91 L671.72 363.77 L672.66 363.64 L673.61 363.54 L674.56 363.46 L675.51 363.4 L676.45 363.37 L677.4 363.36" stroke="#231f20" stroke-width="1.9" fill="none" stroke-linejoin="round"/>
<path d="M393.3 269.45 L394.25 269.46 L395.19 269.51 L396.14 269.6 L397.09 269.72 L398.04 269.88 L398.98 270.07 L399.93 270.29 L400.88 270.55 L401.82 270.84 L402.77 271.17 L403.72 271.53 L404.66 271.93 L405.61 272.36 L406.56 272.82 L407.5 273.32 L408.45 273.86 L409.4 274.43 L410.35 275.03 L411.29 275.67 L412.24 276.34 L413.19 277.04 L414.13 277.78 L415.08 278.56 L416.03 279.37 L416.98 280.21 L417.92 281.09 L418.87 282 L419.82 282.94 L420.76 283.92 L421.71 284.93 L422.66 285.97 L423.6 287.05 L424.55 288.17 L425.5 289.31 L426.44 290.49 L427.39 291.7 L428.34 292.94 L429.29 294.22 L430.23 295.53 L431.18 296.87 L432.13 298.24 L433.07 299.65 L434.02 301.08 L434.97 302.55 L435.92 304.05 L436.86 305.57 L437.81 307.13 L438.76 308.72 L439.7 310.34 L440.65 311.98 L441.6 313.66 L442.54 315.36 L443.49 317.09 L444.44 318.85 L445.38 320.63 L446.33 322.44 L447.28 324.28 L448.23 326.14 L449.17 328.02 L450.12 329.93 L451.07 331.87 L452.01 333.82 L452.96 335.8 L453.91 337.8 L454.86 339.82 L455.8 341.86 L456.75 343.92 L457.7 346 L458.64 348.09 L459.59 350.2 L460.54 352.33 L461.48 354.47 L462.43 356.63 L463.38 358.8 L464.32 360.98 L465.27 363.18 L466.22 365.38 L467.17 367.59 L468.11 369.81 L469.06 372.04 L470.01 374.28 L470.95 376.52 L471.9 378.76 L472.85 381.01 L473.8 383.26 L474.74 385.51 L475.69 387.76 L476.64 390.01 L477.58 392.26 L478.53 394.5 L479.48 396.74 L480.42 398.97 L481.37 401.19 L482.32 403.41 L483.26 405.61 L484.21 407.81 L485.16 409.99 L486.11 412.16 L487.05 414.31 L488 416.45 L488.95 418.57 L489.89 420.67 L490.84 422.75 L491.79 424.81 L492.74 426.85 L493.68 428.87 L494.63 430.86 L495.58 432.82 L496.52 434.76 L497.47 436.67 L498.42 438.55 L499.36 440.4 L500.31 442.22 L501.26 444 L502.21 445.76 L503.15 447.47 L504.1 449.15 L505.05 450.79 L505.99 452.4 L506.94 453.96 L507.89 455.48 L508.83 456.96 L509.78 458.4 L510.73 459.8 L511.67 461.15 L512.62 462.45 L513.57 463.71 L514.52 464.93 L515.46 466.09 L516.41 467.21 L517.36 468.27 L518.3 469.29 L519.25 470.25 L520.2 471.17 L521.14 472.03 L522.09 472.84 L523.04 473.59 L523.99 474.3 L524.93 474.94 L525.88 475.54 L526.83 476.07 L527.77 476.55 L528.72 476.98 L529.67 477.35 L530.62 477.66 L531.56 477.92 L532.51 478.12 L533.46 478.26 L534.4 478.35 L535.35 478.38 L536.3 478.35 L537.24 478.26 L538.19 478.12 L539.14 477.92 L540.09 477.66 L541.03 477.35 L541.98 476.98 L542.93 476.55 L543.87 476.07 L544.82 475.54 L545.77 474.94 L546.71 474.3 L547.66 473.59 L548.61 472.84 L549.55 472.03 L550.5 471.17 L551.45 470.25 L552.4 469.29 L553.34 468.27 L554.29 467.21 L555.24 466.09 L556.18 464.93 L557.13 463.71 L558.08 462.45 L559.02 461.15 L559.97 459.8 L560.92 458.4 L561.87 456.96 L562.81 455.48 L563.76 453.96 L564.71 452.4 L565.65 450.79 L566.6 449.15 L567.55 447.47 L568.5 445.76 L569.44 444 L570.39 442.22 L571.34 440.4 L572.28 438.55 L573.23 436.67 L574.18 434.76 L575.12 432.82 L576.07 430.86 L577.02 428.87 L577.97 426.85 L578.91 424.81 L579.86 422.75 L580.81 420.67 L581.75 418.57 L582.7 416.45 L583.65 414.31 L584.59 412.16 L585.54 409.99 L586.49 407.81 L587.43 405.61 L588.38 403.41 L589.33 401.19 L590.28 398.97 L591.22 396.74 L592.17 394.5 L593.12 392.26 L594.06 390.01 L595.01 387.76 L595.96 385.51 L596.9 383.26 L597.85 381.01 L598.8 378.76 L599.75 376.52 L600.69 374.28 L601.64 372.04 L602.59 369.81 L603.53 367.59 L604.48 365.38 L605.43 363.18 L606.38 360.98 L607.32 358.8 L608.27 356.63 L609.22 354.47 L610.16 352.33 L611.11 350.2 L612.06 348.09 L613 346 L613.95 343.92 L614.9 341.86 L615.85 339.82 L616.79 337.8 L617.74 335.8 L618.69 333.82 L619.63 331.87 L620.58 329.93 L621.53 328.02 L622.47 326.14 L623.42 324.28 L624.37 322.44 L625.31 320.63 L626.26 318.85 L627.21 317.09 L628.16 315.36 L629.1 313.66 L630.05 311.98 L631 310.34 L631.94 308.72 L632.89 307.13 L633.84 305.57 L634.78 304.05 L635.73 302.55 L636.68 301.08 L637.63 299.65 L638.57 298.24 L639.52 296.87 L640.47 295.53 L641.41 294.22 L642.36 292.94 L643.31 291.7 L644.25 290.49 L645.2 289.31 L646.15 288.17 L647.1 287.05 L648.04 285.97 L648.99 284.93 L649.94 283.92 L650.88 282.94 L651.83 282 L652.78 281.09 L653.73 280.21 L654.67 279.37 L655.62 278.56 L656.57 277.78 L657.51 277.04 L658.46 276.34 L659.41 275.67 L660.35 275.03 L661.3 274.43 L662.25 273.86 L663.19 273.32 L664.14 272.82 L665.09 272.36 L666.04 271.93 L666.98 271.53 L667.93 271.17 L668.88 270.84 L669.82 270.55 L670.77 270.29 L671.72 270.07 L672.66 269.88 L673.61 269.72 L674.56 269.6 L675.51 269.51 L676.45 269.46 L677.4 269.45" stroke="#231f20" stroke-width="1.9" fill="none" stroke-linejoin="round" stroke-dasharray="8.3 5.5" stroke-dashoffset="0"/>
<path d="M393.3 492.2 V488.9 M393.3 265.1 V268.4 M535.35 492.2 V488.9 M535.35 265.1 V268.4 M677.4 492.2 V488.9 M677.4 265.1 V268.4 M393.3 492.2 H396.6 M677.4 492.2 H674.1 M393.3 416.5 H396.6 M677.4 416.5 H674.1 M393.3 340.8 H396.6 M677.4 340.8 H674.1 M393.3 265.1 H396.6 M677.4 265.1 H674.1" stroke="#231f20" stroke-width="1.4" fill="none"/>
<rect x="393.3" y="265.1" width="284.1" height="227.1" stroke="#231f20" stroke-width="1.4" fill="none"/>
<text x="376.33" y="270.74" font-family="Liberation Sans" font-size="13.8" fill="#231f20">-</text>
<path d="M384.8 270.74 L386.06 270.74 L386.06 260.96 L385.15 260.96 L384.95 261.58 L384.54 262.05 L383.89 262.29 L382.72 262.38 L382.72 263.4 L384.8 263.4 Z" fill="#231f20"/>
<text x="364.82" y="346.44" font-family="Liberation Sans" font-size="13.8" fill="#231f20">-</text>
<path d="M373.29 346.44 L374.55 346.44 L374.55 336.66 L373.64 336.66 L373.45 337.28 L373.03 337.75 L372.38 337.99 L371.21 338.08 L371.21 339.1 L373.29 339.1 Z" fill="#231f20"/>
<text x="377.09" y="346.44" font-family="Liberation Sans" font-size="13.8" fill="#231f20">.5</text>
<text x="388.6" y="422.14" font-family="Liberation Sans" font-size="13.8" font-weight="normal" font-style="normal" text-anchor="end" fill="#231f20">-2</text>
<path d="M495.3 280.5 H515.4" stroke="#231f20" stroke-width="1.9"/>
<path d="M495.3 298.2 H503.7 M508.7 298.2 H515.4" stroke="#231f20" stroke-width="1.9"/>
<text x="518.17" y="285.2" font-family="Liberation Sans" font-size="14.5" font-weight="normal" font-style="normal" fill="#231f20" textLength="55.61" lengthAdjust="spacing">Acoustic</text>
<text x="517.51" y="303.1" font-family="Liberation Sans" font-size="14.5" font-weight="normal" font-style="normal" fill="#231f20" textLength="46.66" lengthAdjust="spacing">Optical</text>
<text x="45.1" y="510.2" font-family="Liberation Sans" font-size="13.8" font-weight="normal" font-style="normal" text-anchor="middle" fill="#231f20">0</text>
<text x="183.42" y="510.4" font-family="Liberation Serif" font-size="14" font-weight="normal" font-style="italic" fill="#231f20">π</text>
<text x="321.11" y="510.1" font-family="Liberation Sans" font-size="13.8" font-weight="normal" font-style="normal" fill="#231f20">2</text>
<text x="329.82" y="510.4" font-family="Liberation Serif" font-size="14" font-weight="normal" font-style="italic" fill="#231f20">π</text>
<text x="393.3" y="510.2" font-family="Liberation Sans" font-size="13.8" font-weight="normal" font-style="normal" text-anchor="middle" fill="#231f20">0</text>
<text x="531.57" y="510.4" font-family="Liberation Serif" font-size="14" font-weight="normal" font-style="italic" fill="#231f20">π</text>
<text x="669.21" y="510.1" font-family="Liberation Sans" font-size="13.8" font-weight="normal" font-style="normal" fill="#231f20">2</text>
<text x="677.92" y="510.4" font-family="Liberation Serif" font-size="14" font-weight="normal" font-style="italic" fill="#231f20">π</text>
<text x="179.21" y="528" font-family="Liberation Serif" font-size="14.8" font-weight="normal" font-style="italic" fill="#231f20">ω</text>
<text x="189.17" y="528" font-family="Liberation Sans" font-size="15.3" font-weight="normal" font-style="normal" fill="#231f20">t</text>
<text x="527.21" y="528" font-family="Liberation Serif" font-size="14.8" font-weight="normal" font-style="italic" fill="#231f20">ω</text>
<text x="536.97" y="528" font-family="Liberation Sans" font-size="15.3" font-weight="normal" font-style="normal" fill="#231f20">t</text>
<text x="-406.76" y="11.1" font-family="Liberation Sans" font-size="15.4" font-weight="normal" font-style="normal" fill="#231f20" transform="rotate(-90)">Δ</text>
<text x="-395.03" y="11.1" font-family="Liberation Sans" font-size="15" font-weight="normal" font-style="normal" fill="#231f20" textLength="51.66" lengthAdjust="spacing" transform="rotate(-90)">E (meV)</text>
<text x="-406.76" y="359.2" font-family="Liberation Sans" font-size="15.4" font-weight="normal" font-style="normal" fill="#231f20" transform="rotate(-90)">Δ</text>
<text x="-395.03" y="359.2" font-family="Liberation Sans" font-size="15" font-weight="normal" font-style="normal" fill="#231f20" textLength="51.66" lengthAdjust="spacing" transform="rotate(-90)">E (meV)</text>
<path d="M162.7 170.9 V48" stroke="#1f1b1c" stroke-width="1.6"/>
<path d="M162.6 41.9 L158.9 48.8 L166.3 48.8 Z" fill="#1f1b1c"/>
<path d="M162.9 171.2 H286" stroke="#1f1b1c" stroke-width="1.8"/>
<path d="M292.4 171.2 L285 167.7 L285 174.8 Z" fill="#1f1b1c"/>
<path d="M162.9 170.9 L130 209.3" stroke="#1f1b1c" stroke-width="1.9"/>
<path d="M125.1 214.2 L127.2 206.6 L132.9 211.6 Z" fill="#1f1b1c"/>
<path d="M163.1 171.5 V74" stroke="#38a85a" stroke-width="4"/>
<path d="M163.1 64.4 L157.6 75 L168.6 75 Z" fill="#38a85a"/>
<path d="M67.07 81.07 L66.88 80.88 L66.67 80.71 L66.45 80.57 L66.21 80.46 L65.96 80.38 L65.69 80.32 L65.4 80.29 L65.1 80.3 L64.78 80.33 L64.45 80.38 L64.11 80.47 L63.75 80.58 L63.38 80.72 L63 80.89 L62.6 81.09 L62.19 81.31 L61.77 81.57 L61.34 81.84 L60.9 82.15 L60.45 82.48 L59.98 82.83 L59.51 83.22 L59.03 83.62 L58.55 84.05 L58.05 84.51 L57.55 84.99 L57.05 85.49 L56.53 86.01 L56.01 86.56 L55.49 87.12 L54.96 87.71 L54.43 88.32 L53.9 88.94 L53.37 89.59 L52.83 90.25 L52.29 90.93 L51.76 91.62 L51.22 92.33 L50.68 93.06 L50.15 93.8 L49.61 94.55 L49.08 95.31 L48.56 96.09 L48.03 96.87 L47.51 97.67 L47 98.47 L46.49 99.28 M43.83 103.84 L43.36 104.7 L42.9 105.56 L42.45 106.42 L42.01 107.28 L41.59 108.14 L41.17 108.99 L40.77 109.84 L40.39 110.68 L40.02 111.52 L39.66 112.35 L39.31 113.17 L38.98 113.99 L38.67 114.79 L38.37 115.58 M37.02 119.76 L36.84 120.44 L36.67 121.09 L36.53 121.74 L36.4 122.36 L36.29 122.96 L36.2 123.54 L36.12 124.1 L36.07 124.64 L36.03 125.16 L36.01 125.66 L36.01 126.13 L36.02 126.58 L36.06 127 L36.11 127.4 L36.18 127.78 L36.27 128.13 L36.37 128.45 L36.5 128.75 L36.64 129.02 L36.8 129.26 L36.97 129.48 L37.17 129.67 L37.38 129.83 L37.61 129.96 L37.85 130.06 L38.11 130.14 L38.38 130.19 L38.67 130.21 L38.98 130.2 L39.3 130.16 L39.63 130.1 L39.98 130 L40.35 129.88 L40.72 129.73 L41.11 129.56 L41.51 129.35 L41.92 129.12 L42.35 128.86 L42.78 128.57 L43.23 128.26 L43.69 127.92 L44.15 127.56 L44.62 127.17 L45.11 126.75 L45.6 126.32 L46.09 125.85 L46.6 125.37 L47.11 124.86 M49.68 122.05 L50.22 121.41 L50.76 120.76 L51.29 120.1 L51.83 119.41 L52.37 118.71 L52.91 117.99 L53.45 117.26 L53.99 116.52 L54.52 115.76 L55.05 114.99 L55.58 114.21 L56.1 113.42 M58.79 109.09 L59.28 108.24 L59.76 107.39 L60.24 106.54 L60.7 105.69 L61.15 104.84 L61.6 103.99 L62.03 103.14 L62.45 102.29 L62.86 101.44 L63.25 100.6 M65.16 96.16 L65.46 95.38 L65.74 94.61 L66.01 93.85 L66.26 93.11 L66.5 92.38 L66.72 91.66 L66.92 90.96 L67.11 90.28 L67.28 89.61 L67.43 88.96 L67.56 88.33 L67.68 87.72 L67.78 87.13 L67.86 86.56 L67.92 86.01 L67.96 85.48" stroke="#28627f" stroke-width="1.8" fill="none" stroke-linecap="butt" stroke-linejoin="round"/>
<path d="M162.9 170.9 L67.3 80.9 M162.9 170.9 L40.5 130.4" stroke="#28627f" stroke-width="1.8" fill="none" stroke-dasharray="12 4" stroke-dashoffset="12.1"/>
<path d="M162.9 170.9 L55.45 108.32" stroke="#28627f" stroke-width="2.3"/>
<path d="M49.4 104.8 L57.97 105.97 L54.65 111.68 Z" fill="#28627f"/>
<path d="M49.6 105.2 L54.63 91.29" stroke="#28627f" stroke-width="2.0"/>
<path d="M56.4 86.4 L57.3 93.32 L51.28 91.14 Z" fill="#28627f"/>
<path d="M258.49 92.15 L258.26 91.43 L258.04 90.73 L257.84 90.05 L257.66 89.38 L257.49 88.73 L257.34 88.1 L257.21 87.48 L257.09 86.89 L256.99 86.32 L256.91 85.76 L256.85 85.23 L256.8 84.72 L256.78 84.24 L256.76 83.78 L256.77 83.34 L256.8 82.92 L256.84 82.53 L256.9 82.17 L256.97 81.83 L257.07 81.52 L257.18 81.23 L257.31 80.97 L257.45 80.74 L257.62 80.53 L257.8 80.35 L257.99 80.2 L258.2 80.08 L258.43 79.98 L258.67 79.91 L258.93 79.88 L259.21 79.86 L259.5 79.88 L259.8 79.93 L260.12 80 L260.45 80.1 L260.79 80.23 L261.15 80.39 L261.52 80.57 L261.9 80.79 L262.3 81.03 L262.7 81.29 L263.12 81.58 L263.55 81.9 L263.99 82.25 L264.43 82.62 L264.89 83.02 L265.35 83.44 L265.83 83.88 L266.31 84.35 L266.79 84.84 M270.31 88.84 L270.83 89.49 L271.36 90.16 L271.88 90.85 L272.4 91.55 L272.93 92.27 L273.45 93 L273.97 93.74 L274.49 94.5 L275.01 95.26 L275.52 96.04 L276.03 96.83 L276.54 97.63 L277.04 98.43 L277.54 99.25 M279.81 103.17 L280.29 104.05 L280.75 104.93 L281.21 105.8 L281.66 106.68 L282.09 107.55 L282.52 108.42 L282.93 109.28 L283.32 110.14 L283.71 111 L284.08 111.84 L284.44 112.68 L284.78 113.51 L285.11 114.33 M286.71 118.9 L286.91 119.59 L287.1 120.26 L287.27 120.92 L287.42 121.55 L287.56 122.17 L287.68 122.77 L287.78 123.34 L287.87 123.9 L287.94 124.44 L287.99 124.95 L288.02 125.44 L288.03 125.91 L288.03 126.35 L288.01 126.77 L287.97 127.17 L287.92 127.54 L287.85 127.88 L287.76 128.2 L287.65 128.5 L287.53 128.76 L287.39 129 L287.23 129.22 L287.05 129.4 L286.86 129.56 L286.66 129.69 L286.43 129.8 L286.2 129.87 L285.94 129.92 L285.67 129.94 L285.39 129.93 L285.09 129.89 L284.78 129.82 L284.45 129.73 L284.11 129.61 L283.75 129.46 L283.39 129.28 L283.01 129.08 L282.62 128.85 L282.22 128.59 L281.8 128.3 L281.38 127.99 L280.94 127.66 L280.5 127.29 L280.05 126.91 L279.59 126.49 L279.12 126.06 L278.64 125.6 L278.16 125.11 L277.67 124.61 L277.17 124.08 L276.67 123.53 L276.16 122.96 L275.65 122.37 L275.14 121.76 L274.62 121.13 L274.1 120.48 L273.58 119.81 L273.06 119.13 M270.71 115.89 L270.2 115.13 L269.68 114.36 L269.17 113.58 L268.66 112.79 L268.15 111.99 L267.65 111.19 L267.15 110.37 L266.66 109.55 L266.18 108.72 L265.7 107.89 M263.9 104.59 L263.44 103.72 L263 102.85 L262.58 101.98 L262.16 101.12 L261.75 100.26 L261.36 99.41 L260.99 98.56 L260.62 97.73 L260.27 96.9 L259.94 96.08 L259.62 95.27" stroke="#b5242f" stroke-width="1.8" fill="none" stroke-linecap="butt" stroke-linejoin="round"/>
<path d="M162.9 170.9 L255.6 81.2 M162.9 170.9 L285.6 129.8" stroke="#b5242f" stroke-width="1.8" fill="none" stroke-dasharray="12 4" stroke-dashoffset="12.1"/>
<path d="M162.9 170.9 L268.36 109.14" stroke="#b5242f" stroke-width="2.3"/>
<path d="M274.4 105.6 L269.16 112.49 L265.83 106.8 Z" fill="#b5242f"/>
<path d="M274.2 105.6 L283.41 123.7" stroke="#b5242f" stroke-width="2.0"/>
<path d="M285.9 128.6 L280.37 124.12 L285.54 121.49 Z" fill="#b5242f"/>
<text x="157.36" y="31" font-family="Liberation Sans" font-size="19" font-weight="bold" font-style="normal" fill="#1f1b1c">c</text>
<text x="296.45" y="176.7" font-family="Liberation Sans" font-size="19" font-weight="bold" font-style="normal" fill="#1f1b1c">b</text>
<text x="114.12" y="231.6" font-family="Liberation Sans" font-size="19" font-weight="bold" font-style="normal" fill="#1f1b1c">ɑ</text>
<text x="172.8" y="89.1" font-family="Liberation Sans" font-size="19.4" font-weight="bold" font-style="normal" fill="#1f1b1c">H</text>
<text x="186.09" y="96" font-family="Liberation Sans" font-size="12" font-weight="normal" font-style="normal" fill="#1f1b1c" textLength="16" lengthAdjust="spacing">ext</text>
<text x="286.81" y="99.2" font-family="Liberation Sans" font-size="19.6" font-weight="bold" font-style="normal" fill="#1f1b1c">m</text>
<path d="M307.51 105.8 L308.53 105.8 L308.53 97.79 L307.79 97.79 L307.63 98.3 L307.29 98.68 L306.76 98.88 L305.8 98.95 L305.8 99.79 L307.51 99.79 Z" fill="#1f1b1c"/>
<text x="22.61" y="93.1" font-family="Liberation Sans" font-size="19.6" font-weight="bold" font-style="normal" fill="#1f1b1c">m</text>
<text x="39.92" y="100" font-family="Liberation Sans" font-size="11.6" font-weight="normal" font-style="normal" fill="#1f1b1c">2</text>
<text x="51.35" y="73.3" font-family="Liberation Serif" font-size="20" font-weight="normal" font-style="normal" fill="#1f1b1c">δ</text>
<text x="60.41" y="73.1" font-family="Liberation Sans" font-size="19.6" font-weight="bold" font-style="normal" fill="#1f1b1c">m</text>
<text x="78.02" y="80.1" font-family="Liberation Sans" font-size="11.6" font-weight="normal" font-style="normal" fill="#1f1b1c">2</text>
<text x="292.25" y="138.7" font-family="Liberation Serif" font-size="20" font-weight="normal" font-style="normal" fill="#1f1b1c">δ</text>
<text x="300.51" y="138.9" font-family="Liberation Sans" font-size="19.6" font-weight="bold" font-style="normal" fill="#1f1b1c">m</text>
<path d="M321.41 145.5 L322.43 145.5 L322.43 137.49 L321.69 137.49 L321.53 138 L321.19 138.38 L320.66 138.58 L319.7 138.65 L319.7 139.49 L321.41 139.49 Z" fill="#1f1b1c"/>
</svg></body></html>
